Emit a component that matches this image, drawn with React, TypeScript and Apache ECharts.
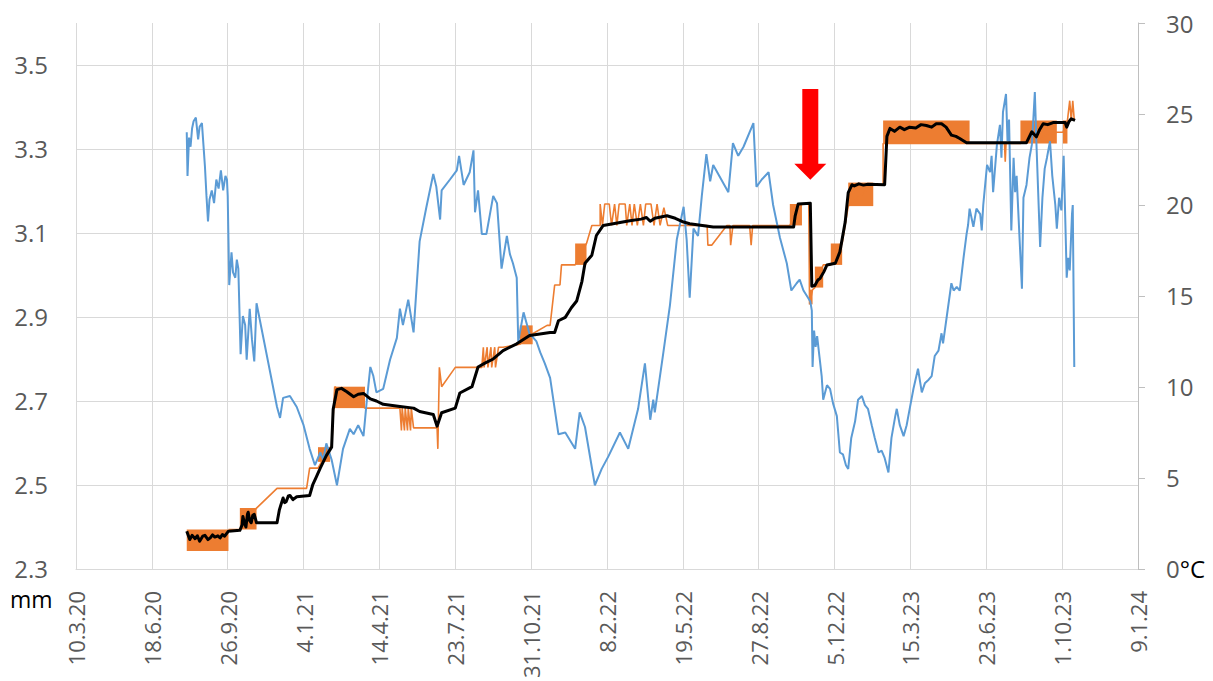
import React, { useEffect, useRef } from "react";
import * as echarts from "echarts";

// x values are days counted from 10.3.2020
const xTickLabels = [
  "10.3.20", "18.6.20", "26.9.20", "4.1.21", "14.4.21", "23.7.21", "31.10.21", "8.2.22",
  "19.5.22", "27.8.22", "5.12.22", "15.3.23", "23.6.23", "1.10.23", "9.1.24",
];
const leftTicks = { min: 2.3, max: 3.6, interval: 0.2 };
const rightTicks = { min: 0, max: 30, interval: 5 };

// temperature (°C), right axis
const temperature: [number, number][] = [
  [146, 24.0], [147, 21.6], [149, 23.7], [151, 23.2], [153, 24.2], [155, 24.6], [158, 24.8], [161, 23.6],
  [163, 24.3], [166, 24.5], [168, 23.3], [170, 22.1], [172, 20.5], [174, 19.1], [176, 20.3], [179, 20.8],
  [182, 20.1], [185, 21.4], [188, 20.9], [191, 21.9], [194, 20.8], [197, 21.6], [199, 21.4], [200, 20.5],
  [202, 15.6], [205, 17.4], [207, 16.3], [210, 16.0], [212, 17.0], [214, 16.5], [217, 11.8], [220, 13.9],
  [223, 13.4], [225, 11.5], [229, 14.3], [232, 12.6], [235, 11.4], [238, 14.6], [265, 8.9], [269, 8.3],
  [273, 9.4], [282, 9.5], [291, 8.9], [300, 7.9], [308, 6.6], [315, 5.7], [322, 6.4], [326, 6.0],
  [330, 6.9], [337, 6.0], [344, 4.6], [352, 6.6], [361, 7.7], [366, 7.4], [372, 7.9], [379, 7.3],
  [383, 9.1], [388, 11.1], [392, 10.6], [396, 9.7], [405, 9.9], [414, 11.5], [423, 12.7], [427, 14.3],
  [431, 13.4], [438, 14.8], [445, 13.0], [453, 18.0], [462, 19.9], [471, 21.7], [475, 21.0], [480, 19.2],
  [482, 20.8], [493, 21.4], [502, 21.9], [505, 22.7], [511, 21.1], [519, 21.8], [524, 23.0], [526, 19.6],
  [530, 20.8], [535, 18.4], [541, 18.4], [550, 20.5], [555, 20.1], [561, 16.5], [568, 18.3], [572, 17.3],
  [576, 16.8], [581, 16.0], [583, 12.5], [590, 14.1], [598, 12.9], [603, 12.7], [607, 12.5], [612, 11.9],
  [618, 11.3], [625, 10.5], [636, 7.4], [645, 7.5], [658, 6.6], [664, 8.6], [671, 7.8], [684, 4.6],
  [693, 5.5], [702, 6.2], [717, 7.5], [728, 6.6], [741, 8.8], [750, 11.3], [757, 8.2], [761, 9.3],
  [763, 8.6], [774, 11.8], [783, 14.5], [792, 18.1], [801, 19.9], [805, 18.1], [809, 14.9], [814, 18.7],
  [820, 18.3], [825, 20.5], [831, 22.8], [836, 21.3], [840, 22.2], [860, 20.7], [866, 23.4], [873, 22.7],
  [880, 23.2], [893, 24.5], [897, 21.0], [904, 21.4], [913, 21.8], [919, 20.0], [928, 18.2], [937, 16.8],
  [943, 15.3], [950, 15.7], [954, 15.9], [959, 15.3], [965, 14.9], [968, 14.7], [970, 14.2], [971, 11.1],
  [973, 13.1], [975, 12.2], [977, 12.8], [980, 11.7], [983, 10.6], [985, 9.3], [990, 10.1], [994, 9.9],
  [998, 9.1], [1003, 8.4], [1007, 6.4], [1011, 6.3], [1015, 5.7], [1018, 5.5], [1022, 7.2], [1027, 8.1],
  [1031, 9.3], [1036, 9.5], [1040, 9.0], [1044, 8.8], [1049, 7.9], [1053, 7.2], [1058, 6.4], [1062, 6.5],
  [1066, 6.1], [1071, 5.3], [1075, 7.2], [1080, 8.4], [1082, 8.8], [1086, 7.9], [1091, 7.3], [1095, 7.9],
  [1099, 8.8], [1104, 9.9], [1110, 11.0], [1115, 9.7], [1119, 10.2], [1124, 10.4], [1128, 10.6],
  [1132, 11.7], [1137, 12.0], [1141, 12.95], [1143, 12.4], [1148, 13.9], [1154, 15.7], [1157, 15.3],
  [1161, 15.5], [1165, 15.3], [1170, 17.1], [1174, 18.4], [1176, 18.9], [1178, 19.8], [1183, 18.8],
  [1187, 19.8], [1192, 19.5], [1194, 18.6], [1196, 20.0], [1201, 22.2], [1205, 21.8], [1207, 22.7],
  [1209, 20.7], [1214, 23.3], [1218, 24.4], [1220, 22.6], [1222, 25.1], [1226, 26.1], [1228, 23.5],
  [1230, 24.7], [1233, 18.6], [1236, 22.6], [1238, 20.7], [1240, 21.6], [1242, 19.8], [1247, 15.4],
  [1249, 20.4], [1253, 21.1], [1257, 22.6], [1260, 23.3], [1262, 24.7], [1264, 26.2], [1266, 23.5],
  [1271, 17.7], [1274, 20.4], [1277, 22.0], [1280, 22.6], [1284, 23.5], [1287, 21.6], [1291, 20.0],
  [1293, 18.7], [1296, 20.4], [1299, 19.7], [1302, 22.7], [1305, 17.8], [1306, 16.0], [1308, 17.1],
  [1310, 16.4], [1313, 19.5], [1314, 20.0], [1316, 11.1],
];

// orange measurement (mm), left axis
const orangeLine: [number, number][] = [
  [201, 2.394], [216, 2.394], [238, 2.445], [265, 2.492], [304, 2.492], [308, 2.54], [319, 2.54],
  [335, 2.59], [337, 2.59], [341, 2.734], [381, 2.683], [427, 2.683], [429, 2.63], [430, 2.683],
  [433, 2.63], [434, 2.683], [437, 2.63], [438, 2.683], [441, 2.63], [442, 2.683], [445, 2.636],
  [476, 2.636], [477, 2.586], [479, 2.78], [482, 2.734], [500, 2.78], [535, 2.78], [537, 2.828],
  [538, 2.78], [542, 2.828], [543, 2.78], [547, 2.828], [548, 2.78], [552, 2.828], [553, 2.78],
  [557, 2.828], [563, 2.828], [585, 2.835], [602, 2.86], [621, 2.88], [625, 2.88], [631, 2.976],
  [638, 2.976], [640, 3.024], [658, 3.024], [673, 3.075], [680, 3.118], [691, 3.118], [691, 3.169],
  [694, 3.118], [697, 3.169], [703, 3.169], [706, 3.118], [710, 3.169], [713, 3.118], [716, 3.169],
  [724, 3.169], [726, 3.118], [730, 3.169], [733, 3.118], [736, 3.169], [740, 3.118], [744, 3.169],
  [748, 3.118], [751, 3.169], [758, 3.169], [762, 3.118], [766, 3.169], [770, 3.118], [775, 3.16],
  [780, 3.118], [832, 3.118], [833, 3.071], [838, 3.071], [858, 3.118], [862, 3.118], [863, 3.071],
  [866, 3.118], [888, 3.118], [890, 3.071], [892, 3.118], [941, 3.118], [957, 3.169], [966, 3.169],
  [967, 2.93], [971, 2.965], [974, 2.97], [985, 3.024], [995, 3.024], [1010, 3.075], [1018, 3.164],
  [1051, 3.215], [1064, 3.215], [1064, 3.313], [1178, 3.313], [1224, 3.313], [1225, 3.27],
  [1226, 3.313], [1245, 3.313], [1293, 3.34], [1301, 3.34], [1307, 3.368], [1310, 3.415],
  [1312, 3.368], [1314, 3.415], [1316, 3.368],
];

// dense oscillation of the orange measurement: [from day, to day, low mm, high mm]
const orangeBands: [number, number, number, number][] = [
  [146, 201, 2.343, 2.394], [216, 238, 2.394, 2.445], [319, 335, 2.555, 2.59], [341, 381, 2.683, 2.734],
  [585, 602, 2.835, 2.88], [658, 673, 3.024, 3.075], [941, 957, 3.118, 3.169], [967, 971, 2.93, 2.965],
  [974, 985, 2.97, 3.02], [995, 1010, 3.024, 3.075], [1018, 1051, 3.164, 3.22], [1064, 1178, 3.313, 3.368],
  [1245, 1293, 3.313, 3.368], [1301, 1307, 3.313, 3.368],
];

// black smoothed measurement (mm), left axis
const blackLine: [number, number][] = [
  [146, 2.39], [150, 2.37], [153, 2.38], [157, 2.372], [160, 2.379], [163, 2.366], [167, 2.378],
  [170, 2.38], [174, 2.37], [177, 2.374], [180, 2.381], [183, 2.376], [187, 2.379], [190, 2.374],
  [193, 2.382], [196, 2.378], [201, 2.39], [216, 2.392], [219, 2.405], [220, 2.425], [222, 2.41],
  [224, 2.4], [226, 2.43], [227, 2.435], [229, 2.415], [231, 2.41], [233, 2.428], [235, 2.43],
  [238, 2.41], [265, 2.41], [268, 2.44], [270, 2.452], [273, 2.469], [275, 2.458], [277, 2.46],
  [280, 2.474], [282, 2.475], [286, 2.465], [291, 2.472], [308, 2.475], [312, 2.5], [317, 2.52],
  [322, 2.54], [326, 2.555], [330, 2.57], [337, 2.59], [339, 2.68], [344, 2.727], [350, 2.73],
  [357, 2.722], [366, 2.71], [372, 2.716], [379, 2.718], [388, 2.705], [396, 2.7], [405, 2.692],
  [427, 2.687], [445, 2.683], [453, 2.675], [471, 2.668], [476, 2.64], [482, 2.672], [500, 2.683],
  [506, 2.719], [522, 2.734], [530, 2.781], [539, 2.79], [550, 2.8], [563, 2.82], [581, 2.836],
  [598, 2.856], [625, 2.863], [631, 2.863], [636, 2.891], [645, 2.899], [653, 2.922], [660, 2.938],
  [667, 2.985], [671, 3.028], [680, 3.047], [686, 3.094], [695, 3.118], [708, 3.122], [730, 3.129],
  [745, 3.133], [752, 3.137], [757, 3.128], [763, 3.135], [779, 3.141], [790, 3.135], [801, 3.126],
  [809, 3.122], [840, 3.114], [946, 3.114], [948, 3.14], [952, 3.169], [968, 3.171], [970, 2.973],
  [974, 2.975], [978, 2.988], [981, 2.992], [986, 3.008], [990, 3.024], [1001, 3.028], [1007, 3.055],
  [1014, 3.126], [1018, 3.196], [1023, 3.215], [1026, 3.212], [1032, 3.217], [1038, 3.214],
  [1044, 3.216], [1066, 3.215], [1069, 3.33], [1073, 3.349], [1079, 3.342], [1086, 3.352],
  [1092, 3.346], [1099, 3.352], [1107, 3.35], [1114, 3.358], [1121, 3.356], [1128, 3.352],
  [1134, 3.36], [1141, 3.36], [1147, 3.352], [1154, 3.333], [1160, 3.33], [1165, 3.325],
  [1174, 3.315], [1253, 3.315], [1260, 3.341], [1263, 3.335], [1266, 3.329], [1270, 3.345],
  [1275, 3.36], [1281, 3.358], [1288, 3.363], [1304, 3.363], [1306, 3.352], [1309, 3.365],
  [1312, 3.372], [1317, 3.368],
];

// red arrow marking the event: day, tail mm, tip mm
const arrowMark = { day: 968, tail: 3.443, tip: 3.227 };

const FONT = "'Open Sans', 'Noto Sans', sans-serif";
const LABEL_GRAY = "#595959";
const GRID_GRAY = "#D9D9D9";

export default function App() {
  const ref = useRef<HTMLDivElement>(null);

  useEffect(() => {
    if (!ref.current) return;
    const chart = echarts.init(ref.current, undefined, { renderer: "svg" });

    const mmLabel = {
      type: "text",
      left: 10,
      top: 587,
      style: { text: "mm", fontSize: 23, fill: "#000000", fontFamily: FONT },
    };

    const option: any = {
      animation: false,
      backgroundColor: "#ffffff",
      textStyle: { fontFamily: FONT },
      grid: { left: 76, right: 75, top: 23, bottom: 106, containLabel: false },
      xAxis: {
        type: "value",
        min: 0,
        max: (xTickLabels.length - 1) * 100,
        interval: 100,
        axisLine: { show: true, lineStyle: { color: GRID_GRAY, width: 1 } },
        axisTick: { show: false },
        splitLine: { show: true, lineStyle: { color: GRID_GRAY, width: 1 } },
        axisLabel: {
          rotate: 90,
          margin: 22,
          fontSize: 22,
          color: LABEL_GRAY,
          fontFamily: FONT,
          formatter: (v: number) => xTickLabels[Math.round(v / 100)] ?? "",
        },
      },
      yAxis: [
        {
          type: "value",
          position: "left",
          min: leftTicks.min,
          max: leftTicks.max,
          interval: leftTicks.interval,
          axisLine: { show: false },
          axisTick: { show: false },
          splitLine: { show: true, showMaxLine: false, lineStyle: { color: GRID_GRAY, width: 1 } },
          axisLabel: {
            showMaxLabel: false,
            margin: 28,
            fontSize: 24,
            color: LABEL_GRAY,
            fontFamily: FONT,
            formatter: (v: number) => (v > 3.55 ? "" : v.toFixed(1)),
          },
        },
        {
          type: "value",
          position: "right",
          min: rightTicks.min,
          max: rightTicks.max,
          interval: rightTicks.interval,
          axisLine: { show: true, lineStyle: { color: "#BFBFBF", width: 1 } },
          axisTick: { show: true, inside: false, length: 7, lineStyle: { color: "#BFBFBF" } },
          splitLine: { show: false },
          axisLabel: {
            margin: 28,
            fontSize: 24,
            color: LABEL_GRAY,
            fontFamily: FONT,
            formatter: (v: number) => (v === 0 ? "{g|0}{k|°C}" : String(v)),
            rich: {
              g: { color: LABEL_GRAY, fontSize: 24, fontFamily: FONT },
              k: { color: "#000000", fontSize: 24, fontFamily: FONT },
            },
          },
        },
      ],
      series: [
        {
          type: "custom",
          name: "orangeBands",
          xAxisIndex: 0,
          yAxisIndex: 0,
          z: 2,
          silent: true,
          clip: true,
          encode: { x: [0, 1], y: [2, 3] },
          data: orangeBands,
          renderItem: (_params: any, api: any) => {
            const p1 = api.coord([api.value(0), api.value(3)]);
            const p2 = api.coord([api.value(1), api.value(2)]);
            return {
              type: "rect",
              shape: { x: p1[0], y: p1[1], width: p2[0] - p1[0], height: p2[1] - p1[1] },
              style: { fill: "#ED7D31" },
            };
          },
        },
        {
          type: "line",
          name: "orange",
          xAxisIndex: 0,
          yAxisIndex: 0,
          z: 2,
          symbol: "none",
          showSymbol: false,
          data: orangeLine,
          lineStyle: { color: "#ED7D31", width: 1.6 },
        },
        {
          type: "line",
          name: "temperature",
          xAxisIndex: 0,
          yAxisIndex: 1,
          z: 3,
          symbol: "none",
          showSymbol: false,
          data: temperature,
          lineStyle: { color: "#5B9BD5", width: 2 },
        },
        {
          type: "line",
          name: "black",
          xAxisIndex: 0,
          yAxisIndex: 0,
          z: 4,
          symbol: "none",
          showSymbol: false,
          data: blackLine,
          lineStyle: { color: "#000000", width: 3, join: "round" },
        },
      ],
      graphic: [mmLabel],
    };

    chart.setOption(option);

    const tail = chart.convertToPixel({ xAxisIndex: 0, yAxisIndex: 0 } as any, [arrowMark.day, arrowMark.tail]) as number[];
    const tip = chart.convertToPixel({ xAxisIndex: 0, yAxisIndex: 0 } as any, [arrowMark.day, arrowMark.tip]) as number[];
    if (tail && tip) {
      const cx = tip[0];
      const headLen = 16;
      const shaftHalf = 8;
      const headHalf = 16;
      const neck = tip[1] - headLen;
      chart.setOption({
        graphic: [
          mmLabel,
          {
            type: "polygon",
            z: 100,
            shape: {
              points: [
                [cx - shaftHalf, tail[1]],
                [cx + shaftHalf, tail[1]],
                [cx + shaftHalf, neck],
                [cx + headHalf, neck],
                [cx, tip[1]],
                [cx - headHalf, neck],
                [cx - shaftHalf, neck],
              ],
            },
            style: { fill: "#FF0000" },
          },
        ],
      });
    }

    return () => chart.dispose();
  }, []);

  return (
    <div
      ref={ref}
      style={{ position: "fixed", left: 0, top: 0, width: 1213, height: 681, background: "#fff" }}
    />
  );
}
